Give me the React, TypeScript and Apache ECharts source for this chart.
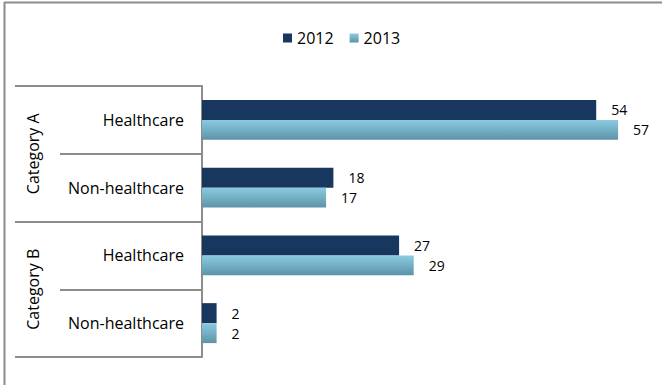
import React, { useEffect, useRef } from "react";
import * as echarts from "echarts";

const groups = ["Category A", "Category B"];
const subcategories = ["Healthcare", "Non-healthcare", "Healthcare", "Non-healthcare"];
const seriesNames = ["2012", "2013"];
const values2012 = [54, 18, 27, 2];
const values2013 = [57, 17, 29, 2];

const FONT = "Open Sans";
const GREY = "#8c8c8c";

export default function App() {
  const ref = useRef<HTMLDivElement>(null);
  useEffect(() => {
    if (!ref.current) return;
    const chart = echarts.init(ref.current, null, { renderer: "svg" });
    const keys = subcategories.map((s, i) => i + "|" + s);
    chart.setOption({
      animation: false,
      backgroundColor: "#fff",
      textStyle: { fontFamily: FONT },
      legend: {
        top: 25,
        left: 278,
        icon: "rect",
        itemWidth: 9,
        itemHeight: 9,
        itemGap: 16,
        textStyle: { fontFamily: FONT, fontSize: 16, color: "#000" },
        data: seriesNames,
      },
      grid: { left: 202, right: 22, top: 86, bottom: 28 },
      xAxis: {
        type: "value",
        min: 0,
        max: 60,
        show: false,
      },
      yAxis: [
        {
          type: "category",
          inverse: true,
          data: keys,
          axisLine: { show: true, lineStyle: { color: GREY, width: 2 } },
          axisTick: { show: true, length: 142, lineStyle: { color: GREY, width: 2 } },
          axisLabel: {
            margin: 18,
            fontSize: 16,
            fontFamily: FONT,
            color: "#000",
            formatter: (v: string) => v.split("|")[1],
          },
          splitLine: { show: false },
        },
        {
          type: "category",
          inverse: true,
          position: "left",
          offset: 142,
          data: groups,
          axisLine: { show: false },
          axisTick: { show: true, length: 45, lineStyle: { color: GREY, width: 2 } },
          axisLabel: {
            rotate: 90,
            margin: 19,
            fontSize: 16,
            fontFamily: FONT,
            color: "#000",
          },
          splitLine: { show: false },
        },
      ],
      series: [
        {
          name: seriesNames[0],
          type: "bar",
          data: values2012,
          barGap: "0%",
          barCategoryGap: "41%",
          itemStyle: { color: "#17375e" },
          label: {
            show: true,
            position: "right",
            distance: 15,
            fontSize: 14,
            fontFamily: FONT,
            color: "#000",
          },
        },
        {
          name: seriesNames[1],
          type: "bar",
          data: values2013,
          barGap: "0%",
          barCategoryGap: "41%",
          itemStyle: {
            color: new echarts.graphic.LinearGradient(0, 0, 0, 1, [
              { offset: 0, color: "#8ccbe0" },
              { offset: 1, color: "#5c93a8" },
            ]),
          },
          label: {
            show: true,
            position: "right",
            distance: 15,
            fontSize: 14,
            fontFamily: FONT,
            color: "#000",
          },
        },
      ],
      graphic: [
        {
          type: "line",
          shape: { x1: 4, y1: 2.5, x2: 662, y2: 2.5 },
          style: { stroke: GREY, lineWidth: 2 },
        },
        {
          type: "line",
          shape: { x1: 4.5, y1: 2, x2: 4.5, y2: 385 },
          style: { stroke: GREY, lineWidth: 2 },
        },
      ],
    });
    return () => chart.dispose();
  }, []);
  return (
    <div
      ref={ref}
      style={{ position: "absolute", left: 0, top: 0, width: 662, height: 385, background: "#fff" }}
    />
  );
}
